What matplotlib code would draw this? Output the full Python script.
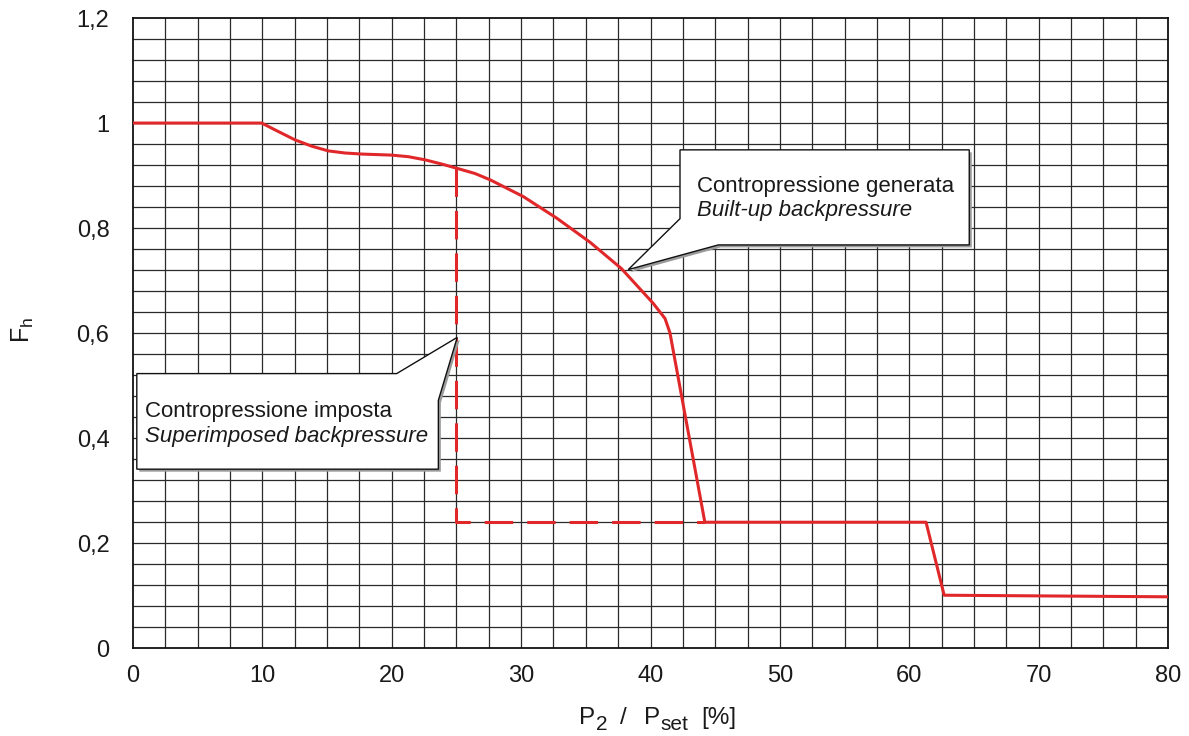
import matplotlib
matplotlib.use("Agg")
import matplotlib.pyplot as plt
from matplotlib.patches import Polygon
from matplotlib import transforms
import numpy as np

plt.rcParams['font.family'] = ['Liberation Sans', 'DejaVu Sans']
plt.rcParams['mathtext.fontset'] = 'custom'
plt.rcParams['mathtext.rm'] = 'Liberation Sans'
plt.rcParams['mathtext.it'] = 'Liberation Sans:italic'
plt.rcParams['mathtext.default'] = 'regular'

# Built-up backpressure correction curve
p_ratio = [0, 9.95, 10.98, 12.52, 13.81, 15.1, 16.39, 17.68, 19.99, 21.28,
           22.57, 23.86, 25.02, 26.43, 27.6, 30.17, 32.75, 35.33, 37.75,
           40.2, 41.12, 41.5, 44.2, 61.3, 62.7, 80]
fh = [1.0, 1.0, 0.987, 0.968, 0.956, 0.947, 0.943, 0.941, 0.939, 0.936,
      0.930, 0.922, 0.914, 0.904, 0.892, 0.860, 0.819, 0.773, 0.723,
      0.657, 0.628, 0.601, 0.24, 0.24, 0.101, 0.098]

# Superimposed backpressure limit (dashed)
imp_x = [25, 25, 44.2]
imp_y = [0.914, 0.24, 0.24]

x_ticks = [0, 10, 20, 30, 40, 50, 60, 70, 80]
y_ticks = [0, 0.2, 0.4, 0.6, 0.8, 1.0, 1.2]
y_tick_labels = ['0', '0,2', '0,4', '0,6', '0,8', '1', '1,2']

RED = '#e0282a'
GRID = '#2a2a2a'
INK = '#1a1a1a'

fig = plt.figure(figsize=(11.89, 7.36), dpi=100)
ax = fig.add_axes([0.1119, 0.1192, 0.8704, 0.8563])
ax.set_xlim(0, 80)
ax.set_ylim(0, 1.2)

# fine grid: 2.5 % steps in x, 0.04 steps in y
for gx in np.arange(2.5, 80, 2.5):
    ax.axvline(gx, color=GRID, lw=0.9, zorder=1)
for gy in np.arange(1, 30) * 0.04:
    ax.axhline(gy, color=GRID, lw=0.9, zorder=1)

ax.set_xticks(x_ticks)
ax.set_yticks(y_ticks)
ax.set_yticklabels(y_tick_labels)
ax.tick_params(axis='both', length=0, labelsize=17, colors=INK)
ax.tick_params(axis='x', pad=12)
ax.tick_params(axis='y', pad=17)
for s in ax.spines.values():
    s.set_linewidth(1.3)
    s.set_color('#111111')

lw = 2.2
ax.plot(imp_x, imp_y, color=RED, lw=lw, dashes=(9.3, 4.6), zorder=3,
        solid_joinstyle='miter')
ax.plot(p_ratio, fh, color=RED, lw=lw, zorder=4, solid_joinstyle='round')


def callout(verts, lines):
    shadow_tr = transforms.offset_copy(ax.transData, fig=fig, x=2.5, y=-2.5, units='dots')
    ax.add_patch(Polygon(verts, closed=True, facecolor='#9a9a9a', edgecolor='none',
                         transform=shadow_tr, zorder=5))
    ax.add_patch(Polygon(verts, closed=True, facecolor='white', edgecolor='#111111',
                         lw=1.0, zorder=6))
    for (tx, ty, txt, style) in lines:
        ax.text(tx, ty, txt, fontsize=16, style=style, color=INK,
                ha='left', va='baseline', zorder=7)


callout([(0.29, 0.523), (20.38, 0.523), (25.06, 0.592), (23.6, 0.472),
         (23.6, 0.341), (0.29, 0.341)],
        [(0.93, 0.441, 'Contropressione imposta', 'normal'),
         (0.93, 0.392, 'Superimposed backpressure', 'italic')])

callout([(42.28, 0.949), (64.64, 0.949), (64.64, 0.768), (45.24, 0.768),
         (38.28, 0.721), (42.28, 0.818)],
        [(43.57, 0.869, 'Contropressione generata', 'normal'),
         (43.57, 0.823, 'Built-up backpressure', 'italic')])

# x-axis title built from pieces so the subscripts stay large and dropped
renderer = fig.canvas.get_renderer()
pieces = [("P", 0, 17.5, 0), ("2", -6, 15, 0), ("/", 0, 17.5, 13),
          ("P", 0, 17.5, 17), ("set", -6, 15, 0), ("[%]", 0, 17.5, 13)]
texts = []
cursor = 0.0
for txt, dy, size, gap in pieces:
    cursor += gap
    t = ax.text(0, 0, txt, fontsize=size, color=INK, ha='left', va='baseline',
                clip_on=False)
    w = t.get_window_extent(renderer).width
    texts.append((t, cursor, dy))
    cursor += w
base_x, base_y = 0.507, -0.120
for t, off, dy in texts:
    t.set_transform(transforms.offset_copy(ax.transAxes, fig=fig,
                                           x=off - cursor / 2, y=dy, units='dots'))
    t.set_position((base_x, base_y))

ax.set_ylabel(r'F$_h$', fontsize=18, color=INK)
ax.yaxis.set_label_coords(-0.094, 0.505)

fig.savefig('out.png', dpi=100)
